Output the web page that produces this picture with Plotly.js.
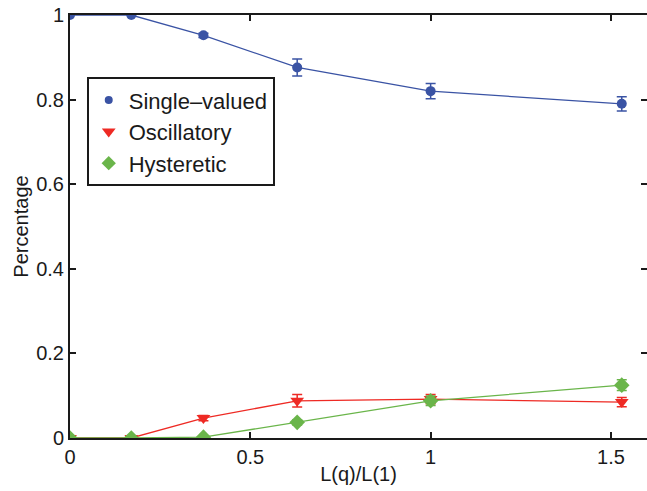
<!DOCTYPE html>
<html><head><meta charset="utf-8">
<script src="https://cdn.plot.ly/plotly-3.0.1.min.js"></script>
<style>html,body{margin:0;padding:0;background:#fff}#c{width:647px;height:491px}</style>
</head><body><div id="c"></div>
<script>
const xVals = [0, 0.17, 0.37, 0.63, 1.0, 1.53];
const singleVals = [1, 1, 0.952, 0.876, 0.820, 0.790];
const singleErr = [0, 0, 0.005, 0.02, 0.018, 0.017];
const oscVals = [0, 0, 0.047, 0.088, 0.092, 0.085];
const oscErr = [0, 0, 0.006, 0.015, 0.011, 0.011];
const hystVals = [0, 0, 0.002, 0.037, 0.088, 0.125];
const hystErr = [0, 0, 0.003, 0.006, 0.011, 0.013];
const names = ['Single\u2013valued', 'Oscillatory', 'Hysteretic'];
const colors = ['#3a53a4', '#ee2a24', '#6ab54a'];
const syms = ['circle', 'triangle-down', 'diamond'];
const sizes = [10, 12, 12];

function tr(y, e, i) {
  return {x: xVals, y: y, name: names[i], type: 'scatter', mode: 'lines+markers', showlegend: false,
    line: {color: colors[i], width: 1.3},
    marker: {color: colors[i], symbol: syms[i], size: sizes[i]},
    error_y: {type: 'data', array: e, visible: true, color: colors[i], thickness: 1.5, width: 5}};
}
function leg(i) {
  return {x: [null], y: [null], name: names[i], type: 'scatter', mode: 'markers',
    marker: {color: colors[i], symbol: syms[i], size: [8, 12, 11][i]}};
}
const data = [
  tr(singleVals, singleErr, 0),
  tr(oscVals, oscErr, 1),
  tr(hystVals, hystErr, 2),
  leg(0), leg(1), leg(2)
];
const fam = 'Liberation Sans, Arial, sans-serif';
const axFont = {family: fam, size: 20, color: '#1a1a1a'};
const layout = {
  width: 647, height: 491,
  margin: {l: 70, r: 0, t: 15, b: 53},
  paper_bgcolor: '#fff', plot_bgcolor: '#fff',
  font: axFont,
  showlegend: true,
  legend: {x: 0.029, y: 0.853, xanchor: 'left', yanchor: 'top', bordercolor: '#1a1a1a', borderwidth: 2,
    bgcolor: '#fff', font: {family: fam, size: 22, color: '#1a1a1a'}, tracegroupgap: 10, itemwidth: 30},
  xaxis: {range: [0, 1.6], tickvals: [0, 0.5, 1, 1.5], ticktext: ['0', '0.5', '1', '1.5'],
    ticks: 'inside', ticklen: 6, tickwidth: 2, tickcolor: '#1a1a1a', showline: true, linecolor: '#1a1a1a', linewidth: 2,
    mirror: 'ticks', showgrid: false, zeroline: false, tickfont: axFont,
    title: {text: 'L(q)/L(1)', font: axFont, standoff: 0}},
  yaxis: {range: [0, 1], tickvals: [0, 0.2, 0.4, 0.6, 0.8, 1], ticktext: ['0', '0.2', '0.4', '0.6', '0.8', '1'],
    ticks: 'inside', ticklen: 6, tickwidth: 2, tickcolor: '#1a1a1a', showline: true, linecolor: '#1a1a1a', linewidth: 2,
    mirror: 'ticks', showgrid: false, zeroline: false, tickfont: axFont,
    title: {text: 'Percentage', font: axFont, standoff: 2}}
};
Plotly.newPlot('c', data, layout, {displayModeBar: false});
</script></body></html>
